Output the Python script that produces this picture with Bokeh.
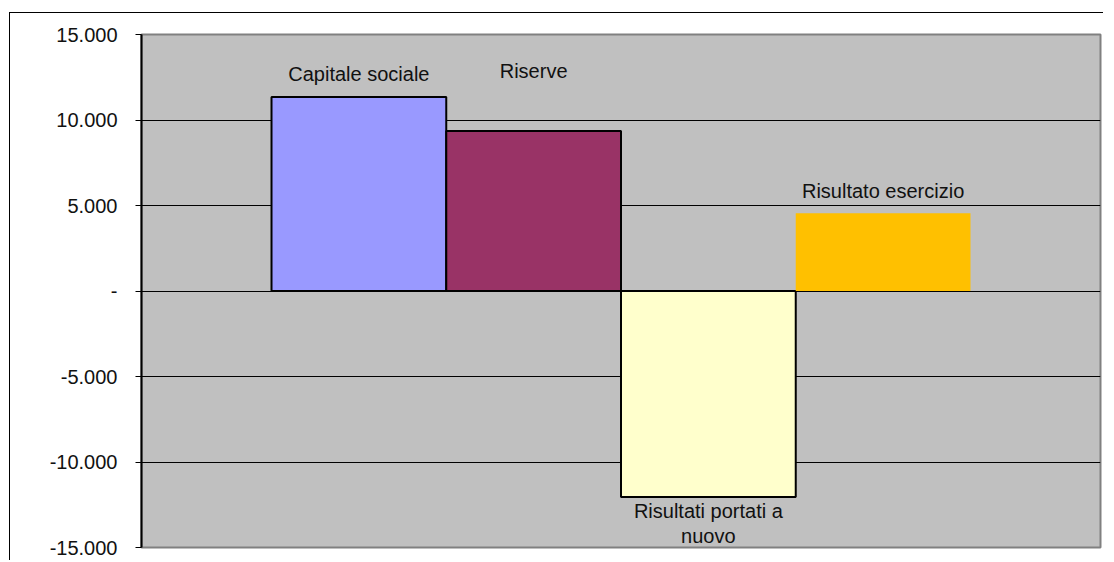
from bokeh.plotting import figure
from bokeh.models import FixedTicker, Range1d
from bokeh.core.properties import value
from bokeh.embed import file_html
from bokeh.resources import INLINE

# ---- data ----
series = ["Capitale sociale", "Riserve", "Risultati portati a\nnuovo", "Risultato esercizio"]
values = [11350, 9350, -12050, 4550]
colors = ["#9999FF", "#993366", "#FFFFCC", "#FFC000"]
y_ticks = [-15000, -10000, -5000, 0, 5000, 10000, 15000]
y_tick_labels = ["-15.000", "-10.000", "-5.000", "-", "5.000", "10.000", "15.000"]
grid_ticks = [-10000, -5000, 0, 5000, 10000]

# ---- style ----
FONT = "Liberation Sans"
FSIZE = "20px"
label_dy = [-23, -60, 3, -22]
label_base = ["alphabetic", "alphabetic", "top", "alphabetic"]
border_alpha = [1, 1, 1, 0]
side_pad = 0.744

xs = list(range(len(series)))

p = figure(width=1094, height=548, output_backend="svg", toolbar_location=None,
           x_axis_location=None,
           x_range=Range1d(-0.5 - side_pad, len(series) - 0.5 + side_pad),
           y_range=Range1d(-15000, 15000))
p.min_border_left = 131
p.min_border_right = 4
p.min_border_top = 21
p.min_border_bottom = 14
p.styles = {"margin-top": "12px", "margin-left": "9px",
            "border-top": "1px solid black", "border-left": "1px solid black"}

p.background_fill_color = "#C0C0C0"
p.border_fill_color = "white"
p.outline_line_color = "#808080"
p.outline_line_width = 2

p.xgrid.visible = False
p.ygrid.ticker = FixedTicker(ticks=grid_ticks)
p.ygrid.grid_line_color = "black"
p.ygrid.grid_line_width = 1

ax = p.yaxis[0]
ax.ticker = FixedTicker(ticks=y_ticks)
ax.major_label_overrides = {t: l for t, l in zip(y_ticks, y_tick_labels)}
ax.axis_line_color = "black"
ax.axis_line_width = 2
ax.major_tick_line_color = "black"
ax.major_tick_out = 6
ax.major_tick_in = 0
ax.minor_tick_line_color = None
ax.major_label_standoff = 18
ax.major_label_text_font = FONT
ax.major_label_text_font_size = FSIZE
ax.major_label_text_color = "#111111"

for i in xs:
    p.vbar(x=[xs[i]], width=1, top=[values[i]], bottom=0,
           fill_color=colors[i], line_color="black", line_width=2,
           line_alpha=border_alpha[i])

for i in xs:
    p.text(x=[xs[i]], y=[values[i]], text=[series[i]],
           text_font=value(FONT), text_font_size=FSIZE, text_color="#111111",
           text_align="center", text_baseline=label_base[i],
           text_line_height=1.12, y_offset=label_dy[i])

open("out.html", "w").write(file_html(p, INLINE))
